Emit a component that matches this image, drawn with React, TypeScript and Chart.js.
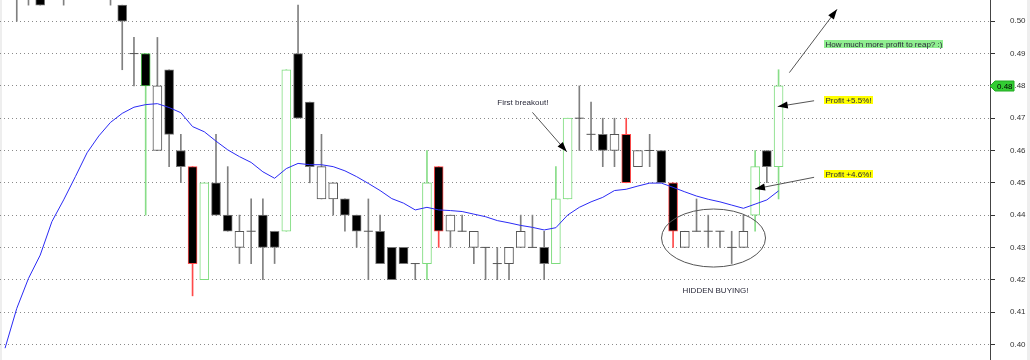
import { useEffect, useRef } from 'react';
import { Chart, registerables } from 'chart.js';

Chart.register(...registerables);

// ---- price data (one entry per trading session) ----
const opens = [
  0.520, 0.515, 0.515, 0.515, 0.510, 0.515, 0.515, 0.520, 0.515, 0.515,
  0.505, 0.490, 0.490, 0.460, 0.485, 0.460, 0.455, 0.420, 0.450, 0.440,
  0.430, 0.435, 0.440, 0.435, 0.435, 0.490, 0.475, 0.445, 0.445, 0.445,
  0.440, 0.435, 0.435, 0.430, 0.430, 0.425, 0.425, 0.455, 0.435, 0.435,
  0.430, 0.430, 0.425, 0.425, 0.430, 0.430, 0.430, 0.425, 0.445, 0.470,
  0.465, 0.465, 0.460, 0.465, 0.455, 0.460, 0.460, 0.450, 0.430, 0.435,
  0.435, 0.435, 0.430, 0.430, 0.440, 0.460, 0.455,
];
const highs = [
  0.525, 0.520, 0.520, 0.520, 0.520, 0.520, 0.525, 0.525, 0.520, 0.520,
  0.505, 0.495, 0.490, 0.495, 0.485, 0.465, 0.455, 0.450, 0.465, 0.455,
  0.440, 0.445, 0.445, 0.435, 0.485, 0.505, 0.475, 0.465, 0.450, 0.445,
  0.440, 0.445, 0.440, 0.430, 0.430, 0.425, 0.460, 0.455, 0.440, 0.440,
  0.435, 0.430, 0.430, 0.430, 0.440, 0.440, 0.435, 0.455, 0.470, 0.480,
  0.475, 0.470, 0.470, 0.470, 0.460, 0.465, 0.460, 0.450, 0.435, 0.445,
  0.440, 0.435, 0.435, 0.440, 0.460, 0.460, 0.485,
];
const lows = [
  0.510, 0.500, 0.505, 0.505, 0.510, 0.505, 0.510, 0.510, 0.510, 0.505,
  0.485, 0.480, 0.440, 0.460, 0.455, 0.450, 0.415, 0.420, 0.440, 0.435,
  0.425, 0.425, 0.420, 0.425, 0.435, 0.470, 0.450, 0.445, 0.440, 0.435,
  0.430, 0.420, 0.425, 0.420, 0.425, 0.420, 0.420, 0.430, 0.430, 0.435,
  0.425, 0.420, 0.420, 0.420, 0.430, 0.430, 0.420, 0.425, 0.445, 0.460,
  0.460, 0.455, 0.455, 0.450, 0.455, 0.455, 0.450, 0.430, 0.430, 0.435,
  0.430, 0.430, 0.425, 0.430, 0.435, 0.450, 0.445,
];
const closes = [
  0.515, 0.510, 0.510, 0.505, 0.515, 0.510, 0.520, 0.515, 0.510, 0.510,
  0.500, 0.490, 0.480, 0.480, 0.465, 0.455, 0.425, 0.450, 0.440, 0.435,
  0.435, 0.435, 0.430, 0.430, 0.485, 0.470, 0.455, 0.455, 0.450, 0.440,
  0.435, 0.435, 0.425, 0.420, 0.425, 0.425, 0.450, 0.435, 0.440, 0.435,
  0.435, 0.430, 0.425, 0.430, 0.435, 0.430, 0.425, 0.445, 0.470, 0.470,
  0.465, 0.460, 0.465, 0.450, 0.460, 0.460, 0.450, 0.435, 0.435, 0.435,
  0.435, 0.435, 0.430, 0.435, 0.455, 0.455, 0.480,
];
// volume signal per session: 'up' strong buying, 'down' strong selling, 'n' normal
const signals = [
  'n', 'n', 'n', 'n', 'n', 'n', 'n', 'n', 'n', 'n',
  'n', 'n', 'up', 'n', 'n', 'n', 'down', 'up', 'n', 'n',
  'n', 'n', 'n', 'n', 'up', 'n', 'n', 'n', 'n', 'n',
  'n', 'n', 'n', 'n', 'n', 'n', 'up', 'down', 'n', 'n',
  'n', 'n', 'n', 'n', 'n', 'n', 'n', 'up', 'up', 'n',
  'n', 'n', 'n', 'down', 'n', 'n', 'n', 'down', 'n', 'n',
  'n', 'n', 'n', 'n', 'up', 'n', 'up',
];
// moving average
const movingAverage = [
  0.3988, 0.4111, 0.4204, 0.4276, 0.4380, 0.4447, 0.4519, 0.4593, 0.4645, 0.4687,
  0.4715, 0.4734, 0.4742, 0.4745, 0.4733, 0.4717, 0.4674, 0.4658, 0.4629, 0.4602,
  0.4581, 0.4563, 0.4534, 0.4514, 0.4544, 0.4560, 0.4556, 0.4556, 0.4550, 0.4537,
  0.4519, 0.4498, 0.4476, 0.4451, 0.4437, 0.4416, 0.4424, 0.4416, 0.4414, 0.4411,
  0.4403, 0.4395, 0.4383, 0.4376, 0.4368, 0.4362, 0.4354, 0.4361, 0.4400, 0.4424,
  0.4441, 0.4455, 0.4476, 0.4480, 0.4490, 0.4499, 0.4499, 0.4486, 0.4472, 0.4459,
  0.4449, 0.4441, 0.4431, 0.4421, 0.4434, 0.4447, 0.4475,
];
const yTickValues = [0.40, 0.41, 0.42, 0.43, 0.44, 0.45, 0.46, 0.47, 0.48, 0.49, 0.50];

// ---- annotations (in data coordinates: session index, price) ----
const noteLabels = [
  { text: 'First breakout!', x: 42, y: 0.475, bg: '', align: 'left' },
  { text: 'How much more profit to reap? :)', x: 70, y: 0.4930, bg: '#90ee90', align: 'left' },
  { text: 'Profit +5.5%!', x: 70, y: 0.4755, bg: '#ffff00', align: 'left' },
  { text: 'Profit +4.6%!', x: 70, y: 0.4527, bg: '#ffff00', align: 'left' },
  { text: 'HIDDEN BUYING!', x: 60.62, y: 0.4166, bg: '', align: 'center' },
];
const noteArrows = [
  { x1: 45.0, y1: 0.4718, x2: 47.93, y2: 0.4596 },
  { x1: 66.92, y1: 0.4841, x2: 70.99, y2: 0.5037 },
  { x1: 69.03, y1: 0.4754, x2: 65.93, y2: 0.4736 },
  { x1: 69.03, y1: 0.4517, x2: 63.99, y2: 0.4481 },
];
const noteEllipse = { cx: 60.45, cy: 0.4329, rx: 4.437, ry: 0.00898 };

const X_MIN = -0.43;
const X_MAX = 84.04;
const Y_MIN = 0.39514;
const Y_MAX = 0.50659;
const FONT = '"Liberation Sans", Arial, sans-serif';

const GREEN = '#7ddc7d';
const GREEN_DARK = '#4cbb4c';
const RED = '#ff4a4a';

function bodyFill(i: number) {
  return closes[i] > opens[i] ? '#ffffff' : '#000000';
}
function bodyBorder(i: number) {
  if (signals[i] === 'up') return closes[i] > opens[i] ? GREEN : GREEN_DARK;
  if (signals[i] === 'down') return RED;
  return closes[i] > opens[i] ? '#555555' : '#777777';
}
function wickColor(i: number) {
  if (signals[i] === 'up') return '#88dd88';
  if (signals[i] === 'down') return RED;
  return '#808080';
}

function drawArrow(ctx: CanvasRenderingContext2D, x1: number, y1: number, x2: number, y2: number) {
  ctx.save();
  ctx.strokeStyle = '#555555';
  ctx.lineWidth = 1;
  ctx.beginPath();
  ctx.moveTo(x1, y1);
  ctx.lineTo(x2, y2);
  ctx.stroke();
  const a = Math.atan2(y2 - y1, x2 - x1);
  const len = 10;
  const hw = 3.5;
  const c = Math.cos(a);
  const s = Math.sin(a);
  ctx.fillStyle = '#000000';
  ctx.beginPath();
  ctx.moveTo(x2, y2);
  ctx.lineTo(x2 - len * c + hw * s, y2 - len * s - hw * c);
  ctx.lineTo(x2 - len * c - hw * s, y2 - len * s + hw * c);
  ctx.closePath();
  ctx.fill();
  ctx.restore();
}

const notesPlugin = {
  id: 'notes',
  beforeDraw(chart: any) {
    const { ctx, width, height } = chart;
    ctx.save();
    ctx.fillStyle = '#ffffff';
    ctx.fillRect(0, 0, width, height);
    ctx.fillStyle = '#eeeeee';
    ctx.fillRect(0, 0, 2, height);
    ctx.fillRect(width - 3, 0, 3, height);
    ctx.restore();
  },
  afterDraw(chart: any) {
    const { ctx } = chart;
    const xs = chart.scales.x;
    const ys = chart.scales.y;
    const X = (v: number) => xs.getPixelForValue(v);
    const Y = (v: number) => ys.getPixelForValue(v);

    // ellipse
    ctx.save();
    ctx.strokeStyle = '#555555';
    ctx.lineWidth = 1;
    const cx = X(noteEllipse.cx);
    const cy = Y(noteEllipse.cy);
    const rx = X(noteEllipse.cx + noteEllipse.rx) - cx;
    const ry = cy - Y(noteEllipse.cy + noteEllipse.ry);
    ctx.beginPath();
    ctx.ellipse(cx, cy, rx, ry, 0, 0, Math.PI * 2);
    ctx.stroke();
    ctx.restore();

    // arrows
    noteArrows.forEach((a) => drawArrow(ctx, X(a.x1), Y(a.y1), X(a.x2), Y(a.y2)));

    // labels
    ctx.save();
    ctx.font = `8px ${FONT}`;
    ctx.textBaseline = 'middle';
    noteLabels.forEach((l) => {
      const px = X(l.x);
      const py = Y(l.y);
      const w = ctx.measureText(l.text).width;
      const left = l.align === 'center' ? px - w / 2 : px;
      if (l.bg) {
        ctx.fillStyle = l.bg;
        ctx.fillRect(Math.round(left) - 1, Math.round(py) - 4, Math.ceil(w) + 2, 8);
      }
      ctx.fillStyle = '#2a2a3a';
      ctx.textAlign = 'left';
      ctx.fillText(l.text, left, py + 0.5);
    });
    ctx.restore();

    // last price tag on the axis
    const last = closes[closes.length - 1];
    const ty = Math.round(Y(last));
    const ax = xs.right;
    ctx.save();
    ctx.fillStyle = '#33cc33';
    ctx.strokeStyle = '#22aa22';
    ctx.beginPath();
    ctx.moveTo(ax, ty);
    ctx.lineTo(ax + 5, ty - 5);
    ctx.lineTo(ax + 24, ty - 5);
    ctx.lineTo(ax + 24, ty + 5);
    ctx.lineTo(ax + 5, ty + 5);
    ctx.closePath();
    ctx.fill();
    ctx.stroke();
    ctx.fillStyle = '#000000';
    ctx.font = `8px ${FONT}`;
    ctx.textBaseline = 'middle';
    ctx.textAlign = 'left';
    ctx.fillText(last.toFixed(2), ax + 7, ty + 0.5);
    ctx.restore();
  },
};

export default function App() {
  const ref = useRef<HTMLCanvasElement>(null);

  useEffect(() => {
    document.body.style.margin = '0';
    const canvas = ref.current;
    if (!canvas) return;

    const idx = closes.map((_, i) => i);
    const bodyIdx = idx.filter((i) => opens[i] !== closes[i]);
    const dojiIdx = idx.filter((i) => opens[i] === closes[i]);
    const wickIdx = idx.filter((i) => highs[i] > lows[i]);

    const chart = new Chart(canvas, {
      type: 'bar',
      data: {
        datasets: [
          {
            type: 'line',
            label: 'MA',
            data: idx.map((i) => ({ x: i, y: movingAverage[i] })),
            borderColor: '#2b2bf5',
            borderWidth: 1,
            pointRadius: 0,
            tension: 0,
            order: 0,
          } as any,
          {
            type: 'line',
            label: 'doji',
            data: dojiIdx.map((i) => ({ x: i, y: closes[i] })),
            showLine: false,
            pointStyle: 'line',
            pointRadius: 4.5,
            pointHoverRadius: 4.5,
            pointBorderWidth: 1,
            pointBorderColor: '#555555',
            pointBackgroundColor: '#555555',
            order: 1,
          } as any,
          {
            type: 'bar',
            label: 'body',
            data: bodyIdx.map((i) => ({ x: i, y: [opens[i], closes[i]] })),
            backgroundColor: bodyIdx.map(bodyFill),
            borderColor: bodyIdx.map(bodyBorder),
            borderWidth: 1,
            borderSkipped: false,
            barThickness: 9,
            grouped: false,
            order: 2,
          } as any,
          {
            type: 'bar',
            label: 'wick',
            data: wickIdx.map((i) => ({ x: i, y: [lows[i], highs[i]] })),
            backgroundColor: wickIdx.map(wickColor),
            borderWidth: 0,
            barThickness: 1,
            grouped: false,
            order: 3,
          } as any,
        ],
      },
      options: {
        responsive: false,
        animation: false,
        events: [],
        devicePixelRatio: 1,
        layout: { padding: 0, autoPadding: false },
        plugins: { legend: { display: false }, tooltip: { enabled: false }, title: { display: false } },
        scales: {
          x: {
            type: 'linear',
            min: X_MIN,
            max: X_MAX,
            offset: false,
            display: false,
            grid: { display: false },
          },
          y: {
            position: 'right',
            min: Y_MIN,
            max: Y_MAX,
            beginAtZero: false,
            afterBuildTicks: (s: any) => {
              s.ticks = yTickValues.map((v) => ({ value: v }));
            },
            afterFit: (s: any) => {
              s.width = 40;
              s.paddingTop = 0;
              s.paddingBottom = 0;
            },
            grid: {
              color: '#8a8a8a',
              lineWidth: 1,
              tickLength: 5,
              tickColor: '#333333',
              drawTicks: true,
              borderDash: [1, 3],
            },
            border: { display: true, color: '#444444', width: 1, dash: [1, 3] },
            ticks: {
              color: '#333333',
              font: { family: FONT, size: 8 },
              padding: 15,
              callback: (v: any) => Number(v).toFixed(2),
            },
          },
        },
      } as any,
      plugins: [notesPlugin],
    });

    return () => chart.destroy();
  }, []);

  return (
    <div style={{ width: 1030, height: 360 }}>
      <canvas ref={ref} width={1030} height={360} style={{ display: 'block' }} />
    </div>
  );
}
